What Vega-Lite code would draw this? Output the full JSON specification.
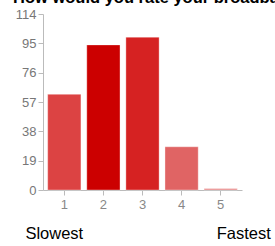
{
  "$schema": "https://vega.github.io/schema/vega-lite/v6.json",
  "autosize": {"type": "none"},
  "width": 199,
  "height": 176,
  "padding": {"left": 43, "top": 14, "right": 33, "bottom": 56},
  "background": "white",
  "title": {
    "text": "How would you rate your broadband speed?",
    "anchor": "start",
    "frame": "group",
    "font": "Liberation Sans",
    "fontSize": 16.5,
    "fontWeight": "bold",
    "color": "#000000",
    "baseline": "alphabetic",
    "dx": -30,
    "dy": 11,
    "offset": 0
  },
  "config": {
    "view": {"stroke": null},
    "axis": {"labelFont": "Liberation Sans", "titleFont": "Liberation Sans"}
  },
  "datasets": {
    "bars": [
      {"rating": "1", "count": 62},
      {"rating": "2", "count": 94},
      {"rating": "3", "count": 99},
      {"rating": "4", "count": 28},
      {"rating": "5", "count": 1}
    ],
    "ends": [
      {"rating": "1", "label": "Slowest", "count": -28.5},
      {"rating": "5", "label": "Fastest", "count": -28.5}
    ]
  },
  "encoding": {
    "x": {
      "field": "rating",
      "type": "nominal",
      "scale": {"paddingInner": 0.15, "paddingOuter": 0.12},
      "axis": {
        "title": null,
        "labelAngle": 0,
        "labelFontSize": 13,
        "labelColor": "#888888",
        "labelPadding": 3,
        "tickSize": 5,
        "tickColor": "#bbbbbb",
        "domainColor": "#bbbbbb"
      }
    },
    "y": {
      "field": "count",
      "type": "quantitative",
      "scale": {"domain": [0, 114], "nice": false},
      "axis": {
        "title": null,
        "values": [0, 19, 38, 57, 76, 95, 114],
        "labelOverlap": false,
        "grid": false,
        "labelFontSize": 13,
        "labelColor": "#777777",
        "labelPadding": 2,
        "tickSize": 5,
        "tickColor": "#bbbbbb",
        "domainColor": "#bbbbbb"
      }
    }
  },
  "layer": [
    {
      "data": {"name": "bars"},
      "mark": {"type": "bar", "stroke": "#ffffff", "strokeOpacity": 0.35, "strokeWidth": 1},
      "encoding": {
        "color": {
          "field": "rating",
          "type": "nominal",
          "legend": null,
          "scale": {
            "domain": ["1", "2", "3", "4", "5"],
            "range": ["#dc4343", "#cc0000", "#d62222", "#e06464", "#e88a8a"]
          }
        }
      }
    },
    {
      "data": {"name": "ends"},
      "transform": [{"filter": "datum.rating == '1'"}],
      "mark": {"type": "text", "font": "Liberation Sans", "fontSize": 16.5, "color": "#000000", "baseline": "middle", "clip": false, "dx": -10},
      "encoding": {
        "text": {"field": "label"}
      }
    },
    {
      "data": {"name": "ends"},
      "transform": [{"filter": "datum.rating == '5'"}],
      "mark": {"type": "text", "font": "Liberation Sans", "fontSize": 16.5, "color": "#000000", "baseline": "middle", "clip": false, "dx": 23},
      "encoding": {
        "text": {"field": "label"}
      }
    }
  ]
}
